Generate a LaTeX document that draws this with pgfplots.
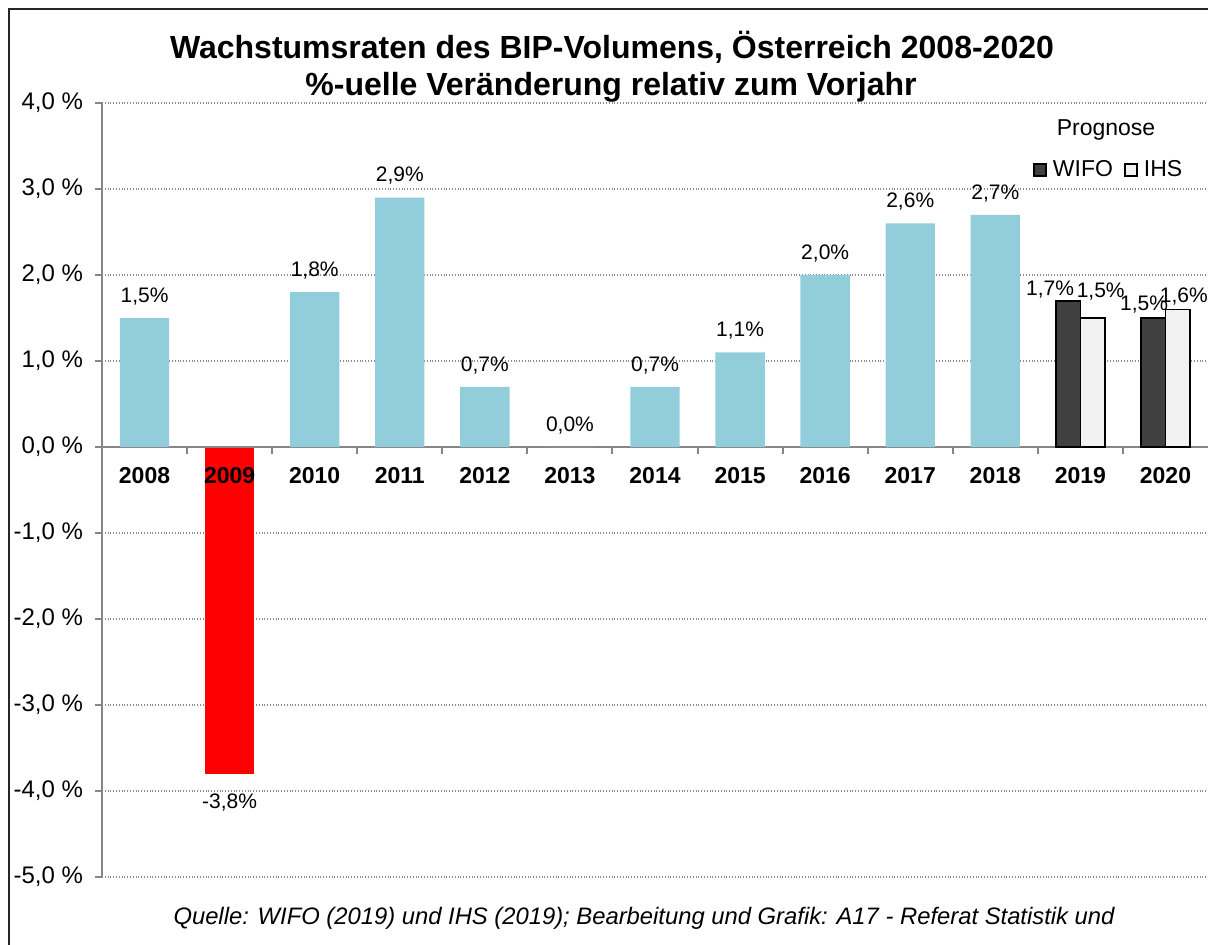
\documentclass[border=0pt]{standalone}
\usepackage{pgfplots}
\pgfplotsset{compat=1.18}
\usepackage{fontspec}
\setmainfont{Liberation Sans}
\definecolor{barblue}{HTML}{92CDDC}
\definecolor{wifo}{HTML}{404040}
\definecolor{ihs}{HTML}{F2F2F2}
\definecolor{axgray}{HTML}{868686}
\pgfplotsset{
  mysq/.style={legend image code/.code={\draw[##1] (0pt,-3pt) rectangle (6pt,3pt);}},
}
\begin{document}
\begin{tikzpicture}
\begin{axis}[
  set layers,
  at={(51pt,33.5pt)}, anchor=south west,
  scale only axis, width=553pt, height=387pt,
  xmin=-0.5, xmax=12.5, ymin=-5, ymax=4,
  axis x line=middle, axis y line=left,
  axis line style={draw=axgray, line width=1pt, -, /pgfplots/on layer=axis foreground},
  hide obscured x ticks=false, hide obscured y ticks=false,
  /pgf/number format/assume math mode=true,
  ytick={-5,-4,-3,-2,-1,0,1,2,3,4},
  ymajorgrids, grid style={densely dotted, black!45, line width=0.6pt},
  yticklabel={\pgfmathprintnumber[fixed,fixed zerofill,precision=1,use comma]{\tick}~\%},
  y tick label style={font=\fontsize{12}{14}\selectfont, xshift=-2.5pt},
  xtick={0,1,2,3,4,5,6,7,8,9,10,11,12},
  xticklabels={2008,2009,2010,2011,2012,2013,2014,2015,2016,2017,2018,2019,2020},
  x tick label style={font=\bfseries\fontsize{11.5}{13}\selectfont, yshift=-3pt},
  major x tick style={draw=none},
  minor xtick={0.5,1.5,2.5,3.5,4.5,5.5,6.5,7.5,8.5,9.5,10.5,11.5},
  minor x tick style={draw=axgray, line width=1pt},
  y tick style={draw=axgray, line width=1pt},
  tick align=outside,
  major tick length=3.5pt, minor tick length=3.5pt,
  nodes near coords={\pgfmathprintnumber[fixed,fixed zerofill,precision=1,use comma]{\pgfplotspointmeta}\%},
  every node near coord/.append style={font=\fontsize{10.5}{12}\selectfont, text=black},
  legend style={draw=none, fill=none, at={(0.8415,0.9134)}, anchor=west, inner sep=0pt,
    font=\fontsize{11.5}{13}\selectfont, legend columns=2,
    nodes={inner sep=1.6pt},
    /tikz/every odd column/.append style={column sep=1.5pt},
    /tikz/every even column/.append style={column sep=4pt}},
  clip=false,
]
\addplot[ybar, bar shift=0pt, bar width=0.58, fill=barblue, draw=none, forget plot,
  every node near coord/.append style={yshift=3pt}]
  coordinates {(0,1.5) (2,1.8) (3,2.9) (4,0.7) (5,0.0) (6,0.7) (7,1.1) (8,2.0) (9,2.6) (10,2.7)};
\addplot[ybar, bar shift=0pt, bar width=0.58, fill=red, draw=none, forget plot,
  /pgfplots/on layer=axis grid,
  every node near coord/.append style={yshift=-6.5pt}]
  coordinates {(1,-3.8)};
\addplot[ybar, bar shift=0pt, bar width=0.29, fill=wifo, draw=black, line width=0.8pt, mysq,
  every node near coord/.append style={xshift=-9pt, yshift=-2.5pt}]
  coordinates {(10.855,1.7)};
\addlegendentry{WIFO}
\addplot[ybar, bar shift=0pt, bar width=0.29, fill=ihs, draw=black, line width=0.8pt, mysq,
  every node near coord/.append style={xshift=4pt, yshift=5pt}]
  coordinates {(11.145,1.5)};
\addlegendentry{IHS}
\addplot[ybar, bar shift=0pt, bar width=0.29, fill=wifo, draw=black, line width=0.8pt, forget plot,
  every node near coord/.append style={xshift=-4.5pt, yshift=-1.5pt}]
  coordinates {(11.855,1.5)};
\addplot[ybar, bar shift=0pt, bar width=0.29, fill=ihs, draw=black, line width=0.8pt, forget plot,
  every node near coord/.append style={xshift=3pt, yshift=-1.7pt}]
  coordinates {(12.145,1.6)};
\end{axis}
\draw[line width=0.8pt, black!85] (4.5pt,-5pt) -- (4.5pt,467.5pt) -- (610pt,467.5pt);
\node[font=\bfseries\fontsize{16}{18}\selectfont] at (306pt,448.5pt) {Wachstumsraten des BIP-Volumens, Österreich 2008-2020};
\node[font=\bfseries\fontsize{16}{18}\selectfont] at (305.5pt,428.5pt) {\%-uelle Veränderung relativ zum Vorjahr};
\node[font=\fontsize{11.5}{13}\selectfont] at (553pt,407pt) {Prognose};
\node[font=\itshape\fontsize{11.9}{13}\selectfont] at (322pt,13pt) {Quelle: WIFO (2019) und IHS (2019); Bearbeitung und Grafik: A17 - Referat Statistik und};
\pgfresetboundingbox
\path[use as bounding box] (0,0) rectangle (604pt,472pt);
\end{tikzpicture}
\end{document}
